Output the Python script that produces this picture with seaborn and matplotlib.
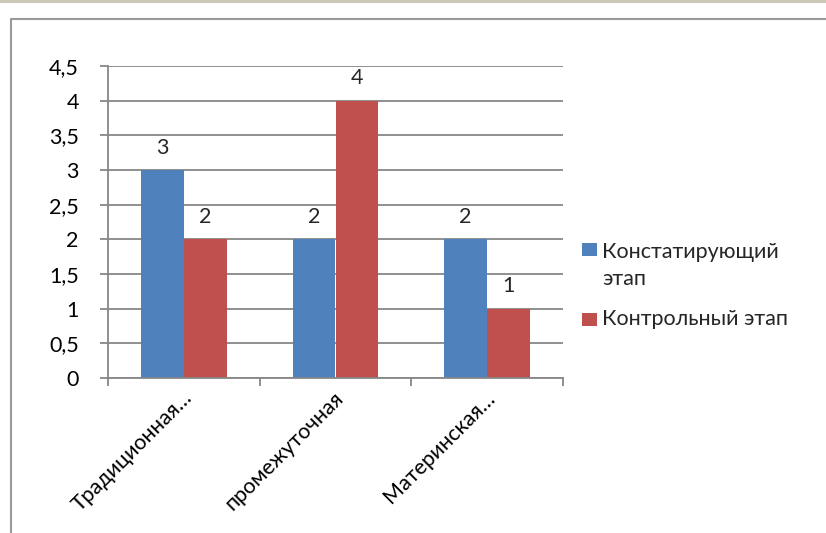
import matplotlib
matplotlib.use("Agg")
import matplotlib.pyplot as plt
import seaborn as sns
import pandas as pd
from matplotlib.patches import Rectangle
from matplotlib.lines import Line2D
import matplotlib.transforms as mtransforms

categories = ["Традиционная…", "промежуточная", "Материнская…"]
series_names = ["Констатирующий этап", "Контрольный этап"]
legend_labels = ["Констатирующий\nэтап", "Контрольный этап"]
stage1_values = [3, 2, 2]
stage2_values = [2, 4, 1]
y_ticks = [0, 0.5, 1, 1.5, 2, 2.5, 3, 3.5, 4, 4.5]
y_tick_labels = ["0", "0,5", "1", "1,5", "2", "2,5", "3", "3,5", "4", "4,5"]
colors = ["#4F81BD", "#C0504D"]

df = pd.DataFrame({
    "cat": categories * 2,
    "series": [series_names[0]] * 3 + [series_names[1]] * 3,
    "value": stage1_values + stage2_values,
})

sns.set_theme(style="white")
plt.rcParams["font.family"] = ["Lato", "DejaVu Sans"]
FS = 15.5
W, H = 826, 533
fig = plt.figure(figsize=(W / 100, H / 100), dpi=100)
fig.patch.set_facecolor("white")

def fx(x):
    return x / W

def fy(y):
    return 1 - y / H

# outer frame
fig.add_artist(Line2D([0, 1], [fy(1.2), fy(1.2)], transform=fig.transFigure, color="#cdc9b6", lw=2.2))
fig.add_artist(Line2D([fx(10.5), fx(10.5)], [fy(19), 0], transform=fig.transFigure, color="#9a9a9a", lw=1.5))
fig.add_artist(Line2D([fx(10.5), 1], [fy(19), fy(19)], transform=fig.transFigure, color="#9a9a9a", lw=1.5))

ax = fig.add_axes([fx(108), fy(378), fx(563) - fx(108), fy(66) - fy(378)])
sns.barplot(data=df, x="cat", y="value", hue="series", palette=colors, width=0.567,
            saturation=1, ax=ax, legend=False, linewidth=0)
ax.set_xlim(-0.5, 2.5)
ax.set_ylim(0, 4.5)
ax.set_yticks(y_ticks)
ax.set_yticklabels(y_tick_labels, fontsize=FS, color="black")
ax.set_xlabel("")
ax.set_ylabel("")
ax.grid(axis="y", color="#878787", lw=1.3)
ax.set_axisbelow(True)
for s in ["top", "right"]:
    ax.spines[s].set_visible(False)
for s in ["left", "bottom"]:
    ax.spines[s].set_color("#878787")
    ax.spines[s].set_linewidth(1.3)
ax.tick_params(axis="y", length=6, width=1.3, color="#878787", pad=15, left=True)
ax.set_xticks([0, 1, 2])
ax.set_xticklabels(categories, fontsize=FS, rotation=45, ha="right", va="top",
                   rotation_mode="anchor", color="black")
ax.tick_params(axis="x", which="major", length=0, pad=7, bottom=True)
ax.set_xticks([-0.5, 0.5, 1.5, 2.5], minor=True)
ax.tick_params(axis="x", which="minor", length=6, width=1.3, color="#878787", bottom=True)
offset = mtransforms.ScaledTranslation(-2 / 100, 0, fig.dpi_scale_trans)
for lab in ax.get_xticklabels():
    lab.set_transform(lab.get_transform() + offset)

for cont in ax.containers:
    ax.bar_label(cont, labels=[f"{int(v)}" for v in cont.datavalues], padding=9, fontsize=FS)

# legend
leg_items = [(249, 285, colors[0], legend_labels[0]), (319.5, 325, colors[1], legend_labels[1])]
for yc, ybase, col, lab in leg_items:
    fig.add_artist(Rectangle((fx(582), fy(yc + 6.5)), fx(597) - fx(582), fy(yc - 6.5) - fy(yc + 6.5),
                             transform=fig.transFigure, facecolor=col, edgecolor="none"))
    fig.text(fx(602), fy(ybase), lab, fontsize=FS, ha="left", va="baseline", linespacing=1.43)

fig.savefig("out.png", dpi=100)
